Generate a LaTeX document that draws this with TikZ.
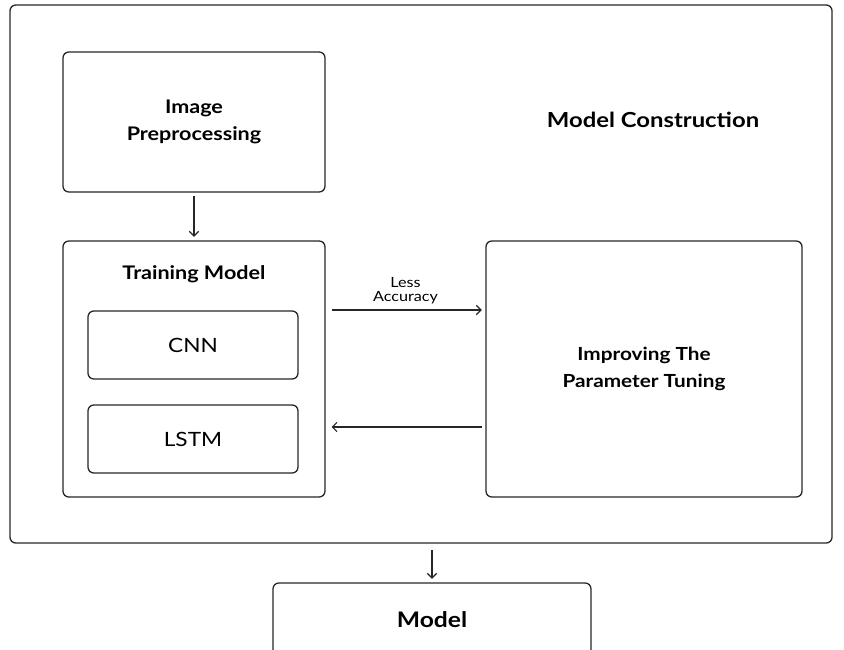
\documentclass[tikz,border=0pt]{standalone}
\usepackage{fontspec}
\setmainfont[FakeStretch=1.15]{Lato}
\usetikzlibrary{arrows.meta}

\tikzset{
  box/.style={draw=black!85, line width=1.1pt, rounded corners=5pt, inner sep=0pt, align=center},
  link/.style={draw=black!85, line width=1pt, -{Straight Barb[length=4pt,width=8pt]}},
  head/.style={font=\bfseries\fontsize{16}{23}\selectfont},
  plain/.style={font=\fontsize{16.8}{20}\selectfont}
}

\begin{document}
\begin{tikzpicture}[x=0.03cm,y=-0.03cm]
\useasboundingbox (0,0) rectangle (844,650);

% outer frame
\node[box, minimum width=24.66cm, minimum height=16.14cm] (frame) at (421,274) {};
\node[head, font=\bfseries\fontsize{17.7}{23}\selectfont] (title) at (653,120) {Model Construction};

% left column
\node[box, head, minimum width=7.86cm, minimum height=4.2cm] (prep) at (194,122) {Image\\Preprocessing};
\node[box, minimum width=7.86cm, minimum height=7.68cm] (train) at (194,369) {};
\node[head] (traintitle) at (194,274) {Training Model};
\node[box, plain, minimum width=6.3cm, minimum height=2.04cm] (cnn) at (193,345) {CNN};
\node[box, plain, minimum width=6.3cm, minimum height=2.04cm] (lstm) at (193,439) {LSTM};

% right column
\node[box, head, font=\bfseries\fontsize{15.4}{23}\selectfont, minimum width=9.48cm, minimum height=7.68cm] (tune) at (644,369) {Improving The\\Parameter Tuning};

% result
\node[box, head, font=\bfseries\fontsize{18.3}{23}\selectfont, minimum width=9.54cm, minimum height=2.22cm] (model) at (432,620) {Model};

% connectors
\draw[link, shorten <=3pt, shorten >=3pt] (prep.south) -- (train.north);
\draw[link, shorten <=5pt, shorten >=3pt] ([yshift=1.77cm]train.east) -- node[above=1pt, align=center, font=\fontsize{12}{12.5}\selectfont] (less) {Less\\Accuracy} ([yshift=1.77cm]tune.west);
\draw[link, shorten <=3pt, shorten >=5pt] ([yshift=-1.74cm]tune.west) -- ([yshift=-1.74cm]train.east);
\draw[link, shorten <=5pt, shorten >=3pt] (frame.south -| model.north) -- (model.north);
\end{tikzpicture}
\end{document}
